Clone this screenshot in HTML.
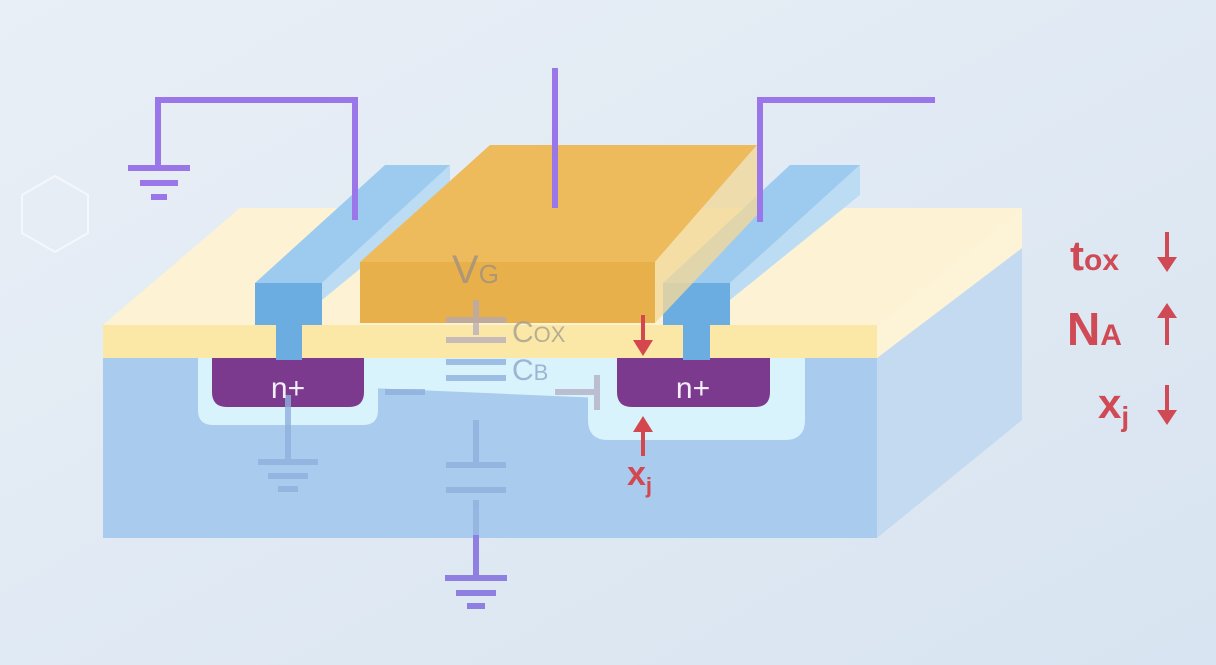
<!DOCTYPE html>
<html><head><meta charset="utf-8"><style>
html,body{margin:0;padding:0;width:1216px;height:665px;overflow:hidden;background:#e3ebf4}
svg{display:block}
text{font-family:"Liberation Sans",sans-serif}
</style></head><body>
<svg width="1216" height="665" viewBox="0 0 1216 665">
<defs>
<linearGradient id="bg" x1="0" y1="0" x2="1" y2="1">
<stop offset="0" stop-color="#e9eff6"/><stop offset="1" stop-color="#d8e4f1"/>
</linearGradient>
</defs>
<rect width="1216" height="665" fill="url(#bg)"/>
<polygon points="22,195 55,176 88,195 88,233 55,252 22,233" fill="none" stroke="#f4f8fc" stroke-width="2"/>

<!-- substrate -->
<polygon points="877,358 1022,248 1022,420 877,538" fill="#c4daf0"/>
<rect x="103" y="358" width="774" height="180" fill="#a9cbee"/>
<!-- oxide -->
<polygon points="103,325 240,208 1022,208 877,325" fill="#fdf3d4"/>
<polygon points="877,325 1022,208 1022,248 877,358" fill="#fdf3d6"/>
<rect x="103" y="325" width="774" height="33" fill="#fbe8a6"/>

<!-- depletion / halos -->
<polygon points="370,358 600,358 600,398 370,388" fill="#d8f3fb"/>
<path d="M198,358 H378 V410 Q378,425 363,425 H213 Q198,425 198,410 Z" fill="#d8f3fb"/>
<path d="M588,358 H805 V420 Q805,440 785,440 H608 Q588,440 588,420 Z" fill="#d8f3fb"/>

<!-- n+ -->
<path d="M212,358 H364 V392 Q364,407 349,407 H227 Q212,407 212,392 Z" fill="#7b3a8d"/>
<path d="M617,358 H770 V392 Q770,407 755,407 H632 Q617,407 617,392 Z" fill="#7b3a8d"/>

<!-- left contact bar -->
<polygon points="255,283 385,165 450,165 322,283" fill="#9ccbef"/>
<polygon points="322,283 450,165 450,195 322,300" fill="#bcdcf4"/>
<rect x="255" y="283" width="67" height="42" fill="#6badE0"/>
<rect x="276" y="320" width="26" height="40" fill="#6badE0"/>
<!-- right contact bar -->
<polygon points="663,283 790,165 860,165 730,283" fill="#9ccbef"/>
<polygon points="730,283 860,165 860,195 730,300" fill="#bcdcf4"/>
<rect x="663" y="283" width="67" height="42" fill="#6badE0"/>
<rect x="683" y="320" width="27" height="40" fill="#6badE0"/>

<!-- gate -->
<polygon points="360,262 490,145 757,145 655,262" fill="#edbb5c"/>
<polygon points="655,262 757,145 757,215 655,323" fill="#f3d89a" opacity="0.8"/>
<rect x="360" y="262" width="295" height="61" fill="#e8b04a"/>

<!-- faded circuit -->
<g stroke="#8fb0dc" stroke-width="6" fill="none" opacity="0.8">
<line x1="288" y1="395" x2="288" y2="462"/>
<line x1="258" y1="462" x2="318" y2="462"/>
<line x1="268" y1="476" x2="308" y2="476"/>
<line x1="278" y1="489" x2="298" y2="489"/>
<line x1="385" y1="392" x2="425" y2="392"/>
<line x1="476" y1="500" x2="476" y2="535"/>
<line x1="446" y1="465" x2="506" y2="465"/>
<line x1="446" y1="490" x2="506" y2="490"/>
<line x1="476" y1="420" x2="476" y2="465"/>
<line x1="446" y1="378" x2="506" y2="378"/>
<line x1="446" y1="362" x2="506" y2="362"/>
</g>
<g stroke="#b0a8c0" stroke-width="6" fill="none" opacity="0.7">
<line x1="476" y1="300" x2="476" y2="335"/>
<line x1="446" y1="320" x2="506" y2="320"/>
<line x1="446" y1="340" x2="506" y2="340"/>
<line x1="555" y1="392" x2="595" y2="392"/>
<line x1="597" y1="375" x2="597" y2="410"/>
</g>
<text x="452" y="283" font-size="40" fill="#9a8f82" opacity="0.75">V<tspan font-size="26">G</tspan></text>
<text x="512" y="342" font-size="30" fill="#a09a90" opacity="0.75">C<tspan font-size="22">OX</tspan></text>
<text x="512" y="380" font-size="30" fill="#8fa6c8" opacity="0.8">C<tspan font-size="22">B</tspan></text>

<text x="288" y="398" font-size="30" fill="#f4eefa" text-anchor="middle">n+</text>
<text x="693" y="398" font-size="30" fill="#f4eefa" text-anchor="middle">n+</text>

<!-- bottom ground -->
<g stroke="#8e7fe0" stroke-width="6">
<line x1="476" y1="535" x2="476" y2="578"/>
<line x1="445" y1="578" x2="507" y2="578"/>
<line x1="456" y1="593" x2="496" y2="593"/>
<line x1="467" y1="606" x2="485" y2="606"/>
</g>

<!-- purple wires -->
<g stroke="#9b76e8" stroke-width="6" fill="none">
<polyline points="355,220 355,100 158,100 158,168"/>
<line x1="128" y1="168" x2="190" y2="168"/>
<line x1="140" y1="183" x2="178" y2="183"/>
<line x1="151" y1="197" x2="167" y2="197"/>
<line x1="555" y1="68" x2="555" y2="208"/>
<polyline points="760,222 760,100 935,100"/>
</g>

<!-- red arrows -->
<g stroke="#d4474f" stroke-width="4" fill="#d4474f">
<line x1="643" y1="315" x2="643" y2="345"/>
<polygon points="633,340 653,340 643,356" stroke="none"/>
<line x1="643" y1="428" x2="643" y2="456"/>
<polygon points="633,432 653,432 643,416" stroke="none"/>
</g>
<text x="627" y="485" font-size="34" font-weight="bold" fill="#d4474f">x<tspan font-size="22" dy="8">j</tspan></text>

<!-- right labels -->
<g fill="#cf4a55" font-weight="bold">
<text x="1070" y="270" font-size="42">t<tspan font-size="30">ox</tspan></text>
<text x="1067" y="345" font-size="46">N<tspan font-size="30">A</tspan></text>
<text x="1098" y="418" font-size="42">x<tspan font-size="28" dy="8">j</tspan></text>
</g>
<g stroke="#cf4a55" stroke-width="4" fill="#cf4a55">
<line x1="1167" y1="232" x2="1167" y2="262"/><polygon points="1157,257 1177,257 1167,272" stroke="none"/>
<line x1="1167" y1="312" x2="1167" y2="345"/><polygon points="1157,318 1177,318 1167,303" stroke="none"/>
<line x1="1167" y1="385" x2="1167" y2="415"/><polygon points="1157,410 1177,410 1167,425" stroke="none"/>
</g>
</svg>
</body></html>
